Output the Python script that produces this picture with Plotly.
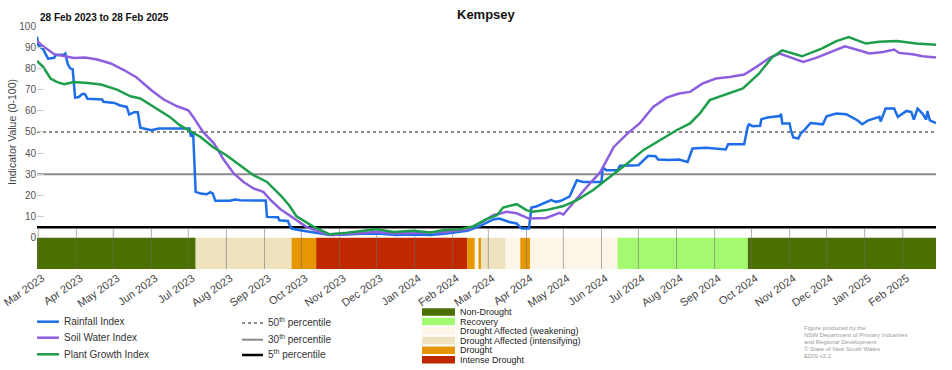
import plotly.graph_objects as go

# ---------------- DATA ----------------
rain_dates = ["2023-02-28","2023-03-01","2023-03-05","2023-03-07","2023-03-09","2023-03-14","2023-03-15","2023-03-22","2023-03-23","2023-03-25","2023-03-27","2023-03-29","2023-03-31","2023-04-03","2023-04-06","2023-04-08","2023-04-10","2023-04-22","2023-04-23","2023-05-02","2023-05-06","2023-05-12","2023-05-14","2023-05-18","2023-05-21","2023-05-23","2023-05-30","2023-06-01","2023-06-07","2023-06-29","2023-07-02","2023-07-03","2023-07-05","2023-07-07","2023-07-11","2023-07-16","2023-07-19","2023-07-21","2023-07-23","2023-08-04","2023-08-08","2023-08-12","2023-09-02","2023-09-03","2023-09-12","2023-09-13","2023-09-20","2023-09-21","2023-09-23","2023-09-30","2023-10-08","2023-10-24","2023-11-07","2023-11-23","2023-12-04","2023-12-17","2023-12-31","2024-01-14","2024-01-27","2024-02-02","2024-02-13","2024-02-23","2024-02-28","2024-03-05","2024-03-10","2024-03-18","2024-03-24","2024-03-28","2024-04-03","2024-04-05","2024-04-09","2024-04-17","2024-04-21","2024-04-25","2024-04-29","2024-05-06","2024-05-12","2024-05-17","2024-06-01","2024-06-02","2024-06-05","2024-06-14","2024-06-16","2024-07-01","2024-07-09","2024-07-15","2024-07-17","2024-07-26","2024-08-03","2024-08-10","2024-08-14","2024-08-25","2024-09-01","2024-09-10","2024-09-12","2024-09-25","2024-09-28","2024-09-29","2024-10-02","2024-10-08","2024-10-09","2024-10-14","2024-10-24","2024-10-25","2024-10-26","2024-11-01","2024-11-02","2024-11-04","2024-11-08","2024-11-10","2024-11-14","2024-11-18","2024-11-28","2024-12-01","2024-12-09","2024-12-17","2024-12-21","2024-12-26","2024-12-30","2025-01-04","2025-01-13","2025-01-14","2025-01-18","2025-01-25","2025-01-28","2025-02-04","2025-02-08","2025-02-10","2025-02-13","2025-02-17","2025-02-20","2025-02-21","2025-02-23","2025-02-28"]
rain_values = [95,91,89,87,84.6,85,86.2,86.5,87,82,80,79.5,66.2,66.5,68,67.8,65.7,65.3,64.2,63.7,62.6,61.8,58.2,59.3,59.3,52,51,50.8,51.6,51.9,51.6,48.4,49,21.7,20.9,20.6,21.6,20.9,17.5,17.5,18.1,17.8,17.6,9.9,9.7,8.3,8,6.5,4.4,3.6,2.8,1.3,1.6,2.1,1.9,1.3,1.6,1.3,2.1,2.4,3.3,5.5,6.8,8.7,9.1,7.5,6.8,4.4,4.4,14.3,14.8,17,17.8,17,17.5,19.5,27.2,26.4,26.4,33.2,31.9,31.9,34,34.3,38.7,38.5,37,36.7,37,35.8,42.2,42.5,42.2,41.7,44.2,44.2,52.7,53.6,52.7,52.9,56,56.8,57.5,58.5,54,54,50.8,47.4,46.9,49.2,51.6,54.2,53.6,57.4,58.7,58.4,57.1,55.5,53.6,55.5,57.1,54.9,61,61,57.1,59.9,59.4,55.8,61,58.7,55.8,59.9,55.5,54.2]

soil_dates = ["2023-02-28","2023-03-05","2023-03-14","2023-03-22","2023-03-30","2023-04-08","2023-04-18","2023-04-29","2023-05-10","2023-05-20","2023-06-01","2023-06-11","2023-06-22","2023-07-01","2023-07-05","2023-07-13","2023-07-22","2023-07-30","2023-08-07","2023-08-15","2023-08-23","2023-08-31","2023-09-06","2023-09-14","2023-09-21","2023-09-25","2023-10-05","2023-10-19","2023-10-27","2023-11-12","2023-12-01","2023-12-17","2024-01-06","2024-01-27","2024-02-13","2024-02-23","2024-03-05","2024-03-16","2024-03-24","2024-04-03","2024-04-17","2024-04-28","2024-05-01","2024-05-09","2024-05-20","2024-05-31","2024-06-11","2024-06-22","2024-07-02","2024-07-13","2024-07-24","2024-08-03","2024-08-12","2024-08-22","2024-09-02","2024-09-13","2024-09-25","2024-10-05","2024-10-16","2024-10-24","2024-11-04","2024-11-12","2024-11-23","2024-12-01","2024-12-16","2024-12-25","2025-01-05","2025-01-16","2025-01-25","2025-01-29","2025-02-09","2025-02-17","2025-02-28"]
soil_values = [92.9,90.4,86.7,85.7,84.9,85.1,84.2,82.3,79.1,75.7,69.7,65.3,62.1,60.2,57.1,50,44.5,36.7,30.4,26.4,23.3,21.7,17.8,13.5,10.7,9.1,5.2,2.1,1.3,2.1,2.8,2.1,2.4,2.8,4,6.8,10.7,12.3,11.6,9.1,9.4,11.8,11,16.5,24,31,42.9,49.2,54,61.8,66.2,68.1,68.9,72.8,75.2,75.9,77.1,80.7,85.1,87,84.6,83,85.1,87,90.4,88.9,87,87.7,88.9,87.3,86.7,85.7,85.1]

plant_dates = ["2023-02-28","2023-03-05","2023-03-11","2023-03-16","2023-03-22","2023-03-30","2023-04-10","2023-04-21","2023-05-04","2023-05-15","2023-05-23","2023-06-03","2023-06-16","2023-06-24","2023-07-01","2023-07-11","2023-07-21","2023-08-01","2023-08-12","2023-08-23","2023-09-03","2023-09-11","2023-09-14","2023-09-21","2023-09-27","2023-10-11","2023-10-24","2023-11-07","2023-11-21","2023-12-01","2023-12-15","2023-12-31","2024-01-14","2024-01-24","2024-02-07","2024-02-18","2024-02-28","2024-03-08","2024-03-13","2024-03-24","2024-04-01","2024-04-06","2024-04-17","2024-05-01","2024-05-12","2024-05-25","2024-06-08","2024-06-22","2024-07-05","2024-07-19","2024-08-01","2024-08-12","2024-08-20","2024-08-28","2024-09-10","2024-09-24","2024-10-07","2024-10-18","2024-10-26","2024-11-11","2024-11-27","2024-12-09","2024-12-19","2025-01-02","2025-01-13","2025-01-27","2025-02-12","2025-02-28"]
plant_values = [83.5,80.7,75.2,73.6,72.5,73.6,73.1,72.4,70,66.8,65.8,61.8,57.1,53.2,50.8,47.6,42.9,39,34.3,29.6,26.4,21.7,20.1,15.4,10.2,5.2,1.7,2.4,3.2,4,2.8,3.3,2.5,3.6,4,5.5,8.7,10.7,14.3,15.9,13.1,12.3,13.1,15,17.8,22.5,28.8,35.1,41.4,46.1,50.8,54,58.7,65,67.8,70.5,77.5,85.4,88.5,85.7,89.3,92.9,94.8,91.7,92.6,92.9,91.7,91.2]

band_starts = ["2023-02-28","2023-07-07","2023-09-23","2023-10-13","2024-02-13","2024-02-19","2024-02-22","2024-02-24","2024-03-15","2024-03-27","2024-04-04","2024-06-14","2024-09-28"]
band_ends   = ["2023-07-07","2023-09-23","2023-10-13","2024-02-13","2024-02-19","2024-02-22","2024-02-24","2024-03-15","2024-03-27","2024-04-04","2024-06-14","2024-09-28","2025-02-28"]
band_categories = ["Non-Drought","Drought Affected (intensifying)","Drought","Intense Drought","Drought","Drought Affected (weakening)","Drought","Drought Affected (intensifying)","Drought Affected (weakening)","Drought","Drought Affected (weakening)","Recovery","Non-Drought"]

category_names = ["Non-Drought","Recovery","Drought Affected (weakening)","Drought Affected (intensifying)","Drought","Intense Drought"]
category_colors = ["#4b7000","#a3fa70","#fdf5e8","#eee2bf","#e59600","#c02800"]

series_names = ["Rainfall Index","Soil Water Index","Plant Growth Index"]
series_colors = ["#1d6ee8","#8d5fe0","#1c9e4a"]

percentile_values = [50, 30, 5]
percentile_labels = ["50<sup>th</sup> percentile","30<sup>th</sup> percentile","5<sup>th</sup> percentile"]
percentile_colors = ["#8a8a8a","#8a8a8a","#000000"]
percentile_dash = ["dot","solid","solid"]
percentile_width = [2, 2, 2.5]

month_ticks = ["2023-03-01","2023-04-01","2023-05-01","2023-06-01","2023-07-01","2023-08-01","2023-09-01","2023-10-01","2023-11-01","2023-12-01","2024-01-01","2024-02-01","2024-03-01","2024-04-01","2024-05-01","2024-06-01","2024-07-01","2024-08-01","2024-09-01","2024-10-01","2024-11-01","2024-12-01","2025-01-01","2025-02-01"]
month_labels = ["Mar 2023","Apr 2023","May 2023","Jun 2023","Jul 2023","Aug 2023","Sep 2023","Oct 2023","Nov 2023","Dec 2023","Jan 2024","Feb 2024","Mar 2024","Apr 2024","May 2024","Jun 2024","Jul 2024","Aug 2024","Sep 2024","Oct 2024","Nov 2024","Dec 2024","Jan 2025","Feb 2025"]
y_ticks = [0,10,20,30,40,50,60,70,80,90,100]

# ---------------- LAYOUT ----------------
W, H = 952, 370
ML, MR, MT, MB = 37, 16, 26, 101
PW, PH = W - ML - MR, H - MT - MB
BAND_BOTTOM = -14.7
GRID_TOP = 4.6
FONT = "Liberation Sans, Arial, sans-serif"

def pxx(px):
    return (px - ML) / PW

def pxy(py):
    return (H - MB - py) / PH

fig = go.Figure()
for name, col, xs, ys in zip(series_names, series_colors,
                             [rain_dates, soil_dates, plant_dates],
                             [rain_values, soil_values, plant_values]):
    fig.add_trace(go.Scatter(x=xs, y=ys, mode="lines", name=name,
                             line=dict(color=col, width=2.5), hoverinfo="x+y"))

shapes = []
cat_color = dict(zip(category_names, category_colors))
for s, e, c in zip(band_starts, band_ends, band_categories):
    shapes.append(dict(type="rect", xref="x", yref="y", x0=s, x1=e, y0=BAND_BOTTOM, y1=0,
                       fillcolor=cat_color[c], line=dict(width=0), layer="below"))
for t in month_ticks:
    shapes.append(dict(type="line", xref="x", yref="y", x0=t, x1=t, y0=BAND_BOTTOM, y1=GRID_TOP,
                       line=dict(color="rgba(110,110,110,0.55)", width=1), layer="below"))
for v, c, d, w in zip(percentile_values, percentile_colors, percentile_dash, percentile_width):
    shapes.append(dict(type="line", xref="paper", yref="y", x0=0, x1=1, y0=v, y1=v,
                       line=dict(color=c, width=w, dash=d), layer="below"))

annotations = []
# titles
annotations.append(dict(text="<b>Kempsey</b>", xref="paper", yref="paper", x=0.5, y=pxy(14),
                        xanchor="center", yanchor="middle", showarrow=False,
                        font=dict(family=FONT, size=13, color="#111")))
annotations.append(dict(text="<b>28 Feb 2023 to 28 Feb 2025</b>", xref="paper", yref="paper",
                        x=pxx(37.5), y=pxy(18), xanchor="left", yanchor="middle", showarrow=False,
                        font=dict(family=FONT, size=10, color="#111")))
annotations.append(dict(text="Indicator Value (0-100)", xref="paper", yref="paper",
                        x=pxx(12), y=pxy(132), xanchor="center", yanchor="middle", textangle=-90,
                        showarrow=False, font=dict(family=FONT, size=10.5, color="#444")))

# series legend
for i, (name, col) in enumerate(zip(series_names, series_colors)):
    yy = [321.7, 337.7, 354.3][i]
    shapes.append(dict(type="line", xref="paper", yref="paper", x0=pxx(37), x1=pxx(59),
                       y0=pxy(yy), y1=pxy(yy), line=dict(color=col, width=2.5)))
    annotations.append(dict(text=name, xref="paper", yref="paper", x=pxx(62), y=pxy(yy),
                            xanchor="left", yanchor="middle", showarrow=False,
                            font=dict(family=FONT, size=10, color="#333")))
# percentile legend
for i, (lab, c, d, w) in enumerate(zip(percentile_labels, percentile_colors, percentile_dash, percentile_width)):
    yy = [323, 339.7, 355][i]
    shapes.append(dict(type="line", xref="paper", yref="paper", x0=pxx(242), x1=pxx(263),
                       y0=pxy(yy), y1=pxy(yy), line=dict(color=c, width=w, dash=d)))
    annotations.append(dict(text=lab, xref="paper", yref="paper", x=pxx(266), y=pxy(yy - 1),
                            xanchor="left", yanchor="middle", showarrow=False,
                            font=dict(family=FONT, size=10, color="#333")))
# category legend
for i, (name, col) in enumerate(zip(category_names, category_colors)):
    yc = 312 + i * 9.55
    shapes.append(dict(type="rect", xref="paper", yref="paper", x0=pxx(422), x1=pxx(455),
                       y0=pxy(yc - 3.8), y1=pxy(yc + 3.8), fillcolor=col, line=dict(width=0)))
    annotations.append(dict(text=name, xref="paper", yref="paper", x=pxx(458), y=pxy(yc),
                            xanchor="left", yanchor="middle", showarrow=False,
                            font=dict(family=FONT, size=9, color="#222")))
# credit
credit_lines = ["Figure produced by the", "NSW Department of Primary Industries",
                "and Regional Development", "\u00a9 State of New South Wales", "EDIS v2.2"]
for i, line in enumerate(credit_lines):
    annotations.append(dict(text=line, xref="paper", yref="paper", x=pxx(802), y=pxy(327.5 + i * 7.2),
                            xanchor="left", yanchor="middle", showarrow=False,
                            font=dict(family=FONT, size=6, color="#9a9a9a")))

fig.update_layout(
    width=W, height=H, margin=dict(l=ML, r=MR, t=MT, b=MB, autoexpand=False),
    paper_bgcolor="white", plot_bgcolor="white", showlegend=False,
    font=dict(family=FONT, color="#444"),
    shapes=shapes, annotations=annotations,
    xaxis=dict(type="date", range=["2023-02-28", "2025-02-28"], tickvals=month_ticks,
               ticktext=month_labels, tickangle=-35, showgrid=False, zeroline=False,
               showline=False, ticks="", automargin=False, ticklabeloverflow="allow",
               ticklabelshift=4, tickfont=dict(size=11, color="#444")),
    yaxis=dict(range=[BAND_BOTTOM, 100], tickvals=y_ticks, showgrid=False, zeroline=False,
               showline=False, ticks="inside", ticklen=7, tickcolor="#cccccc", automargin=False,
               tickfont=dict(size=10, color="#555")),
)

fig.write_html("out.html", config={"displayModeBar": False},
               post_script="document.body.style.margin='0px';")
